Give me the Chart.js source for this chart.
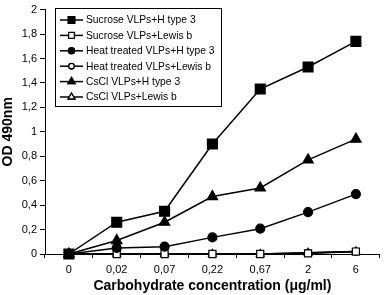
<!DOCTYPE html>
<html><head><meta charset="utf-8">
<script src="https://cdn.jsdelivr.net/npm/chart.js@4.4.1/dist/chart.umd.min.js"></script>
<style>html,body{margin:0;padding:0;background:#fff}#wrap{width:388px;height:295px}</style>
</head><body><div id="wrap"><canvas id="c" width="388" height="295"></canvas></div>
<script>
const categories = ["0","0,02","0,07","0,22","0,67","2","6"];
const seriesNames = ["Sucrose VLPs+H type 3","Sucrose VLPs+Lewis b","Heat treated VLPs+H type 3","Heat treated VLPs+Lewis b","CsCl VLPs+H type 3","CsCl VLPs+Lewis b"];
const sucroseH = [0, 0.26, 0.35, 0.90, 1.35, 1.53, 1.74];
const sucroseLe = [0, 0, 0, 0, 0, 0.005, 0.02];
const heatH = [0, 0.05, 0.06, 0.136, 0.207, 0.343, 0.49];
const heatLe = [0, 0, 0, 0, 0, 0.01, 0.02];
const cscH = [0, 0.11, 0.26, 0.47, 0.54, 0.77, 0.94];
const cscLe = [0, 0, 0, 0, 0, 0.01, 0.02];
const yTicks = [0,0.2,0.4,0.6,0.8,1,1.2,1.4,1.6,1.8,2];

const FONT = '"Liberation Sans", Arial, sans-serif';
function ds(label, data, style, filled, radius, legR){
  return {label, data, borderColor:'#000', borderWidth:1.5,
    pointStyle:style, pointRadius:radius, pointHoverRadius:radius,
    pointBackgroundColor: filled ? '#000' : '#fff', pointBorderColor:'#000', pointBorderWidth:1.2,
    tension:0, fill:false, clip:false, _filled:filled, _legR:legR};
}
// first dataset is drawn on top
const datasets = [
  ds(seriesNames[0], sucroseH, 'rect', true, 7, 4.5),
  ds(seriesNames[4], cscH, 'triangle', true, 6, 4),
  ds(seriesNames[2], heatH, 'circle', true, 4.5, 3),
  ds(seriesNames[1], sucroseLe, 'rect', false, 5, 4),
  ds(seriesNames[3], heatLe, 'circle', false, 3.5, 2.7),
  ds(seriesNames[5], cscLe, 'triangle', false, 4.5, 3.8),
];
const legendOrder = [0,3,2,4,1,5];

const legendPlugin = {
  id:'boxLegend',
  afterDraw(chart){
    const ctx = chart.ctx;
    ctx.save();
    const x0=55.5, y0=8.5, w=166, h=98;
    ctx.strokeStyle='#000'; ctx.lineWidth=1;
    ctx.fillStyle='#fff';
    ctx.fillRect(x0,y0,w,h);
    ctx.strokeRect(x0,y0,w,h);
    ctx.font = '10.3px '+FONT;
    ctx.textBaseline='middle';
    legendOrder.forEach((di,i)=>{
      const d = chart.data.datasets[di];
      const y = 20 + i*15.4;
      ctx.strokeStyle='#000'; ctx.lineWidth=1.5;
      ctx.beginPath(); ctx.moveTo(60,y); ctx.lineTo(83,y); ctx.stroke();
      Chart.helpers.drawPoint(ctx, {pointStyle:d.pointStyle, radius:d._legR, rotation:0, borderWidth:1.1}, 71.5, y);
      ctx.fillStyle = d._filled ? '#000' : '#fff';
      ctx.strokeStyle = '#000'; ctx.lineWidth=1.1;
      ctx.fill(); ctx.stroke();
      ctx.fillStyle='#000';
      ctx.fillText(d.label, 86, y+0.5);
    });
    ctx.restore();
  }
};

new Chart(document.getElementById('c'), {
  type:'line',
  data:{labels:categories, datasets},
  options:{
    responsive:false, animation:false, devicePixelRatio:1,
    layout:{padding:{top:4, right:1, left:0, bottom:0}},
    plugins:{legend:{display:false}, tooltip:{enabled:false}},
    scales:{
      x:{type:'category', offset:true,
        grid:{display:true, drawOnChartArea:false, drawTicks:true, tickLength:4, color:'#000', offset:true},
        border:{display:true, color:'#000', width:1},
        ticks:{color:'#000', font:{size:11, family:FONT}, padding:5},
        title:{display:true, text:'Carbohydrate concentration (μg/ml)', color:'#000', font:{size:14, weight:'bold', family:FONT}, padding:{top:3,bottom:0}},
        afterFit(s){ s.height = 41; }
      },
      y:{min:0, max:2,
        afterBuildTicks(s){ s.ticks = yTicks.map(v=>({value:v})); },
        grid:{display:true, drawOnChartArea:false, drawTicks:true, tickLength:5, color:'#000'},
        border:{display:true, color:'#000', width:1},
        ticks:{color:'#000', font:{size:11, family:FONT}, padding:3,
          callback:v=> String(v).replace('.',',')},
        title:{display:true, text:'OD 490nm', color:'#000', font:{size:14, weight:'bold', family:FONT}, padding:{top:0,bottom:2}},
        afterFit(s){ s.width = 45; }
      }
    }
  },
  plugins:[legendPlugin]
});
</script></body></html>
